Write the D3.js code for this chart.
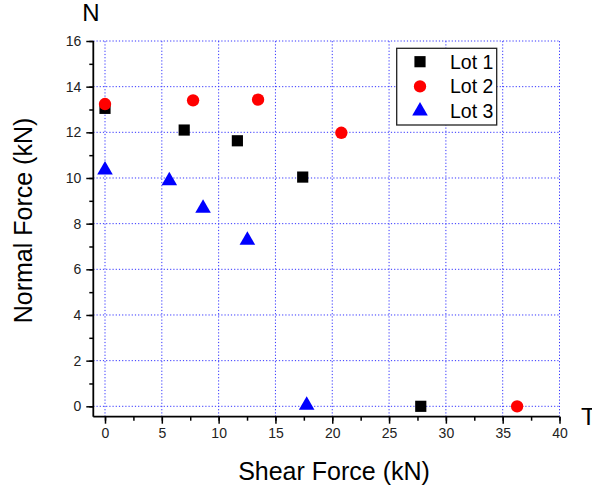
<!DOCTYPE html>
<html>
<head>
<meta charset="utf-8">
<script src="https://cdn.jsdelivr.net/npm/d3@7"></script>
<style>
  html, body { margin: 0; padding: 0; background: #fff; }
  svg { display: block; font-family: Arial, "Liberation Sans", sans-serif; }
</style>
</head>
<body>
<svg id="chart" width="592" height="489"></svg>
<script>
// ---- data ----
const lot1X = [0, 6.97, 11.65, 17.4, 27.79];
const lot1Y = [13.05, 12.1, 11.63, 10.04, 0];
const lot2X = [0, 7.75, 13.47, 20.8, 36.27];
const lot2Y = [13.24, 13.4, 13.43, 11.98, 0];
const lot3X = [0, 5.66, 8.63, 12.53, 17.75];
const lot3Y = [10.35, 9.88, 8.67, 7.27, 0.05];
const seriesNames = ["Lot 1", "Lot 2", "Lot 3"];
const xTicks = [0, 5, 10, 15, 20, 25, 30, 35, 40];
const yTicks = [0, 2, 4, 6, 8, 10, 12, 14, 16];
const xMinorTicks = [0, 2.5, 5, 7.5, 10, 12.5, 15, 17.5, 20, 22.5, 25, 27.5, 30, 32.5, 35, 37.5, 40];
const yMinorTicks = [0, 1, 2, 3, 4, 5, 6, 7, 8, 9, 10, 11, 12, 13, 14, 15, 16];

const series = [
  { name: seriesNames[0], xs: lot1X, ys: lot1Y, shape: d3.symbolSquare, color: "#000000", size: 125 },
  { name: seriesNames[1], xs: lot2X, ys: lot2Y, shape: d3.symbolCircle, color: "#ff0000", size: 120 },
  { name: seriesNames[2], xs: lot3X, ys: lot3Y, shape: d3.symbolTriangle, color: "#0000ff", size: 105 }
];

const svg = d3.select("#chart");
const pLeft = 93.3, pRight = 559.5, pTop = 41, pBottom = 416.7;

const x = d3.scaleLinear().domain([-1.03, 40]).range([pLeft, pRight]);
const y = d3.scaleLinear().domain([-0.455, 16]).range([pBottom, pTop]);

// grid
const grid = svg.append("g");
grid.selectAll("line.vx").data(xTicks).join("line")
  .attr("x1", d => x(d)).attr("x2", d => x(d))
  .attr("y1", pBottom).attr("y2", y(16))
  .attr("stroke", "#3333ff").attr("stroke-width", 1).attr("stroke-dasharray", "1.2,2");
grid.selectAll("line.hy").data(yTicks).join("line")
  .attr("x1", pLeft).attr("x2", pRight)
  .attr("y1", d => y(d)).attr("y2", d => y(d))
  .attr("stroke", "#3333ff").attr("stroke-width", 1).attr("stroke-dasharray", "1.2,2");

// axes
const xAxis = d3.axisBottom(x).tickValues(xTicks).tickSize(7).tickPadding(4).tickFormat(d3.format("d"));
const xMinor = d3.axisBottom(x).tickValues(xMinorTicks).tickSize(4).tickFormat("");
const yAxis = d3.axisLeft(y).tickValues(yTicks).tickSize(7).tickPadding(5).tickFormat(d3.format("d"));
const yMinor = d3.axisLeft(y).tickValues(yMinorTicks).tickSize(4).tickFormat("");

function styleAxis(g) {
  g.select(".domain").remove();
  g.selectAll(".tick line").attr("stroke", "#000").attr("stroke-width", 1.5);
  g.selectAll("text").attr("font-size", 14).attr("fill", "#222")
    .attr("font-family", "Arial, 'Liberation Sans', sans-serif");
}
svg.append("g").attr("transform", `translate(0,${pBottom})`).call(xMinor).call(styleAxis);
svg.append("g").attr("transform", `translate(0,${pBottom})`).call(xAxis).call(styleAxis);
svg.append("g").attr("transform", `translate(${pLeft},0)`).call(yMinor).call(styleAxis);
svg.append("g").attr("transform", `translate(${pLeft},0)`).call(yAxis).call(styleAxis);

svg.append("line").attr("x1", pLeft).attr("x2", pRight).attr("y1", pBottom).attr("y2", pBottom)
  .attr("stroke", "#000").attr("stroke-width", 1.8);
svg.append("line").attr("x1", pLeft).attr("x2", pLeft).attr("y1", y(16)).attr("y2", pBottom)
  .attr("stroke", "#000").attr("stroke-width", 1.8);

// points
series.forEach(s => {
  const pts = s.xs.map((v, i) => [v, s.ys[i]]);
  svg.append("g").selectAll("path").data(pts).join("path")
    .attr("d", d3.symbol().type(s.shape).size(s.size))
    .attr("transform", d => `translate(${x(d[0])},${y(d[1])})`)
    .attr("fill", s.color);
});

// legend
const lg = svg.append("g");
lg.append("rect").attr("x", 396.7).attr("y", 48.3).attr("width", 100).attr("height", 76.7)
  .attr("fill", "#fff").attr("stroke", "#222").attr("stroke-width", 1.3);
series.forEach((s, i) => {
  const cy = 61.7 + i * 24.7;
  lg.append("path").attr("d", d3.symbol().type(s.shape).size(s.size))
    .attr("transform", `translate(420,${cy})`).attr("fill", s.color);
  lg.append("text").attr("x", 450).attr("y", cy + 6.8).attr("font-size", 19.5)
    .attr("fill", "#000").text(s.name);
});

// titles
svg.append("text").attr("x", 334).attr("y", 480).attr("text-anchor", "middle")
  .attr("font-size", 25).attr("fill", "#000").text("Shear Force (kN)");
svg.append("text").attr("transform", "translate(31.5,220.5) rotate(-90)").attr("text-anchor", "middle")
  .attr("font-size", 25).attr("fill", "#000").text("Normal Force (kN)");
svg.append("text").attr("x", 91).attr("y", 20.5).attr("text-anchor", "middle")
  .attr("font-size", 24).attr("fill", "#000").text("N");
svg.append("text").attr("x", 581).attr("y", 424.5)
  .attr("font-size", 24.5).attr("fill", "#000").text("T");
</script>
</body>
</html>
